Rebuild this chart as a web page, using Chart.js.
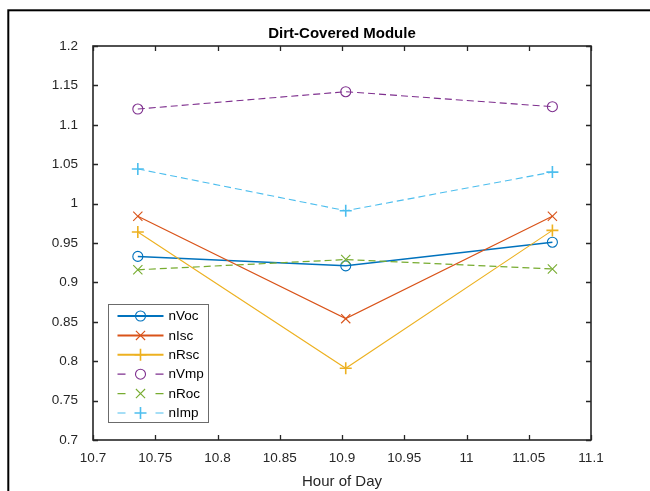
<!DOCTYPE html>
<html>
<head>
<meta charset="utf-8">
<script src="https://cdn.jsdelivr.net/npm/chart.js@4/dist/chart.umd.min.js"></script>
<style>
  html, body { margin: 0; padding: 0; background: #fff; }
  #wrap { width: 650px; height: 491px; position: relative; }
</style>
</head>
<body>
<div id="wrap"><canvas id="c" width="650" height="491"></canvas></div>
<script>
// ---- data ----
const chartTitle = "Dirt-Covered Module";
const xLabel = "Hour of Day";
const hours = [10.736, 10.903, 11.069];
const nVoc = [0.933, 0.921, 0.951];
const nIsc = [0.984, 0.854, 0.984];
const nRsc = [0.964, 0.791, 0.966];
const nVmp = [1.120, 1.142, 1.123];
const nRoc = [0.916, 0.929, 0.917];
const nImp = [1.044, 0.991, 1.040];
const xTicks = [10.7, 10.75, 10.8, 10.85, 10.9, 10.95, 11, 11.05, 11.1];
const yTicks = [0.7, 0.75, 0.8, 0.85, 0.9, 0.95, 1, 1.05, 1.1, 1.15, 1.2];
const seriesNames = ["nVoc", "nIsc", "nRsc", "nVmp", "nRoc", "nImp"];
const seriesValues = [nVoc, nIsc, nRsc, nVmp, nRoc, nImp];

// ---- styles ----
const colors = ["#0072BD", "#D95319", "#EDB120", "#7E2F8E", "#77AC30", "#4DBEEE"];
const markers = ["circle", "crossRot", "cross", "circle", "crossRot", "cross"];
const radii = [5, 6.5, 6, 5, 6.5, 6];
const dashed = [false, false, false, true, true, true];
const lineW = [1.5, 1.2, 1.1, 1.1, 1.2, 1.1];
const markerW = [1.1, 1.1, 1.6, 1.1, 1.1, 1.6];
const AX = "#262626";
const FONT = "'Liberation Sans', Arial, Helvetica, sans-serif";

const datasets = seriesNames.map((name, i) => ({
  label: name,
  data: hours.map((h, j) => ({ x: h, y: seriesValues[i][j] })),
  borderColor: colors[i],
  backgroundColor: "rgba(0,0,0,0)",
  borderWidth: lineW[i],
  borderDash: dashed[i] ? [7, 4] : [],
  pointStyle: markers[i],
  pointRadius: radii[i],
  pointHoverRadius: radii[i],
  pointBorderColor: colors[i],
  pointBackgroundColor: "rgba(0,0,0,0)",
  pointBorderWidth: markerW[i],
  tension: 0,
  fill: false,
  order: seriesNames.length - i
}));

const fmt = v => String(parseFloat(Number(v).toFixed(2)));

const decor = {
  id: "decor",
  beforeDraw(chart) {
    const ctx = chart.ctx;
    ctx.save();
    ctx.fillStyle = "#fff";
    ctx.fillRect(0, 0, chart.width, chart.height);
    ctx.strokeStyle = "#000";
    ctx.lineWidth = 2;
    ctx.strokeRect(8.3, 10.3, 800, 800);
    ctx.restore();
  },
  afterDraw(chart) {
    const ctx = chart.ctx;
    const a = chart.chartArea;
    const xs = chart.scales.x, ys = chart.scales.y;
    ctx.save();
    // inward ticks
    ctx.strokeStyle = AX;
    ctx.lineWidth = 1.3;
    const tl = 5;
    ctx.beginPath();
    xTicks.forEach(v => {
      const px = Math.round(xs.getPixelForValue(v)) + 0.5;
      ctx.moveTo(px, a.bottom); ctx.lineTo(px, a.bottom - tl);
      ctx.moveTo(px, a.top); ctx.lineTo(px, a.top + tl);
    });
    yTicks.forEach(v => {
      const py = Math.round(ys.getPixelForValue(v)) + 0.5;
      ctx.moveTo(a.left, py); ctx.lineTo(a.left + tl, py);
      ctx.moveTo(a.right, py); ctx.lineTo(a.right - tl, py);
    });
    ctx.stroke();
    // box
    ctx.lineWidth = 1.6;
    ctx.strokeRect(a.left, a.top, a.right - a.left, a.bottom - a.top);
    // title
    ctx.fillStyle = "#000";
    ctx.font = "bold 15px " + FONT;
    ctx.textAlign = "center";
    ctx.textBaseline = "alphabetic";
    ctx.fillText(chartTitle, (a.left + a.right) / 2, 38);

    // legend (inside axes, lower-left)
    const lx = a.left + 15.5, ly = a.bottom - 135.5, lw = 100, lh = 118;
    ctx.fillStyle = "#fff";
    ctx.fillRect(lx, ly, lw, lh);
    ctx.strokeStyle = "#6b6b6b";
    ctx.lineWidth = 1;
    ctx.strokeRect(lx, ly, lw, lh);
    chart.data.datasets.forEach((ds, i) => {
      const cy = ly + 11.5 + i * 19.4;
      const x0 = lx + 9, x1 = lx + 55, xm = (x0 + x1) / 2;
      ctx.strokeStyle = ds.borderColor;
      ctx.lineWidth = dashed[i] ? 1.2 : 2;
      ctx.setLineDash([]);
      ctx.beginPath();
      if (dashed[i]) {
        ctx.moveTo(x0, cy); ctx.lineTo(x0 + 8, cy);
        ctx.moveTo(x1 - 8, cy); ctx.lineTo(x1, cy);
      } else {
        ctx.moveTo(x0, cy); ctx.lineTo(x1, cy);
      }
      ctx.stroke();
      ctx.lineWidth = ds.pointBorderWidth;
      ctx.fillStyle = "rgba(0,0,0,0)";
      ctx.strokeStyle = ds.borderColor;
      Chart.helpers.drawPoint(ctx, {
        pointStyle: ds.pointStyle, radius: ds.pointRadius, borderWidth: ds.pointBorderWidth, rotation: 0
      }, xm, cy);
      ctx.fillStyle = "#000";
      ctx.font = "13.5px " + FONT;
      ctx.textAlign = "left";
      ctx.textBaseline = "middle";
      ctx.fillText(ds.label, x1 + 5, cy + 0.5);
    });
    ctx.restore();
  }
};

new Chart(document.getElementById("c"), {
  type: "line",
  data: { datasets },
  options: {
    responsive: false,
    devicePixelRatio: 1,
    animation: false,
    events: [],
    layout: { padding: { top: 46, right: 59, left: 0, bottom: 0 } },
    plugins: { legend: { display: false }, title: { display: false }, tooltip: { enabled: false } },
    scales: {
      x: {
        type: "linear",
        min: 10.7, max: 11.1,
        afterBuildTicks: s => { s.ticks = xTicks.map(v => ({ value: v })); },
        afterFit: s => { s.height = 51; },
        grid: { display: false },
        border: { display: false },
        ticks: { color: AX, font: { family: FONT, size: 13.5 }, padding: 2, maxRotation: 0, autoSkip: false, callback: v => fmt(v) },
        title: { display: true, text: xLabel, color: AX, font: { family: FONT, size: 15 }, padding: { top: 4, bottom: 0 } }
      },
      y: {
        type: "linear",
        min: 0.7, max: 1.2,
        afterBuildTicks: s => { s.ticks = yTicks.map(v => ({ value: v })); },
        afterFit: s => { s.width = 93; },
        grid: { display: false },
        border: { display: false },
        ticks: { color: AX, font: { family: FONT, size: 13.5 }, padding: 7, autoSkip: false, callback: v => fmt(v) }
      }
    }
  },
  plugins: [decor]
});
</script>
</body>
</html>
